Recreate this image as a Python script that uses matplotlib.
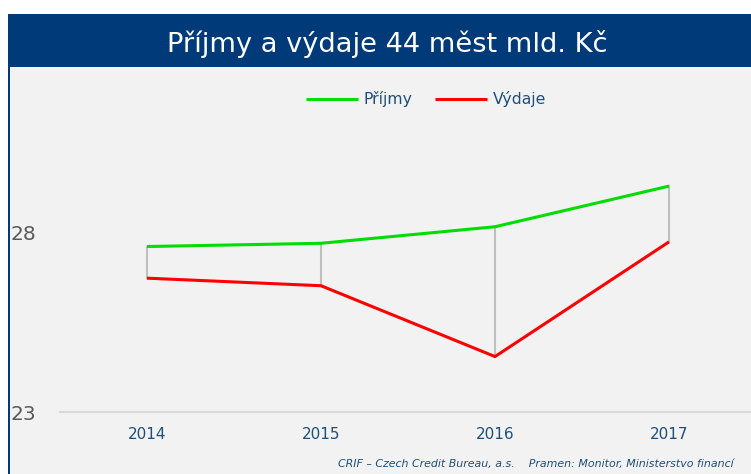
import matplotlib
matplotlib.use("Agg")
import matplotlib.pyplot as plt
from matplotlib.patches import Rectangle

# data (mld. Kč)
years = ["2014", "2015", "2016", "2017"]
prijmy = [27.61, 27.70, 28.16, 29.29]
vydaje = [26.73, 26.52, 24.55, 27.74]

W, H = 751, 474
navy = "#003A78"
txt_blue = "#1F4E79"

fig = plt.figure(figsize=(W / 100, H / 100), dpi=100)
fig.patch.set_facecolor("white")

# panel background, title bar, left border
fig.patches.append(Rectangle((10 / W, 0), 1, 1 - 67 / H, transform=fig.transFigure,
                             facecolor="#F2F2F2", edgecolor="none", zorder=-2))
fig.patches.append(Rectangle((8 / W, 1 - 67 / H), 1, 53 / H, transform=fig.transFigure,
                             facecolor=navy, edgecolor="none", zorder=-2))
fig.patches.append(Rectangle((8 / W, 0), 2 / W, 1 - 14 / H, transform=fig.transFigure,
                             facecolor=navy, edgecolor="none", zorder=-2))

fig.text(387.5 / W, 1 - 52 / H, "Příjmy a výdaje 44 měst mld. Kč", color="white",
         fontsize=19.6, ha="center", va="baseline")

ax = fig.add_axes([60 / W, 1 - 412.3 / H, 1 - 60 / W, (412.3 - 68) / H])
ax.set_zorder(1)
ax.set_facecolor("none")
x = list(range(len(years)))

for i in x:
    ax.plot([i, i], [vydaje[i], prijmy[i]], color="#BFBFBF", lw=1.5, zorder=2)
ax.plot(x, prijmy, color="#00DD00", lw=2.2, label="Příjmy", zorder=3,
        solid_capstyle="butt")
ax.plot(x, vydaje, color="#FF0000", lw=2.2, label="Výdaje", zorder=3,
        solid_capstyle="butt")

ax.set_xlim(-0.5, 3 + (W - 669) / 174)
ax.set_ylim(23, 28 + (232.5 - 68) / 35.96)
ax.set_xticks(x)
ax.set_xticklabels(years)
ax.set_yticks([23, 28])

for s in ["top", "right", "left"]:
    ax.spines[s].set_visible(False)
ax.spines["bottom"].set_color("#D9D9D9")
ax.spines["bottom"].set_linewidth(1.5)
ax.tick_params(axis="x", length=0, pad=10.5, labelsize=11, labelcolor=txt_blue)
ax.tick_params(axis="y", length=0, pad=17, labelsize=14.5, labelcolor="#595959")

leg = ax.legend(loc="center", bbox_to_anchor=(426 / W, 1 - 99 / H),
                bbox_transform=fig.transFigure, ncol=2, frameon=False,
                fontsize=11.3, handlelength=3.3, handletextpad=0.4,
                columnspacing=1.4)
for t in leg.get_texts():
    t.set_color(txt_blue)

fig.text(734 / W, 1 - 467 / H,
         "CRIF – Czech Credit Bureau, a.s.    Pramen: Monitor, Ministerstvo financí",
         color=txt_blue, fontsize=7.9, style="italic", ha="right", va="baseline")

fig.savefig("out.png", dpi=100)
